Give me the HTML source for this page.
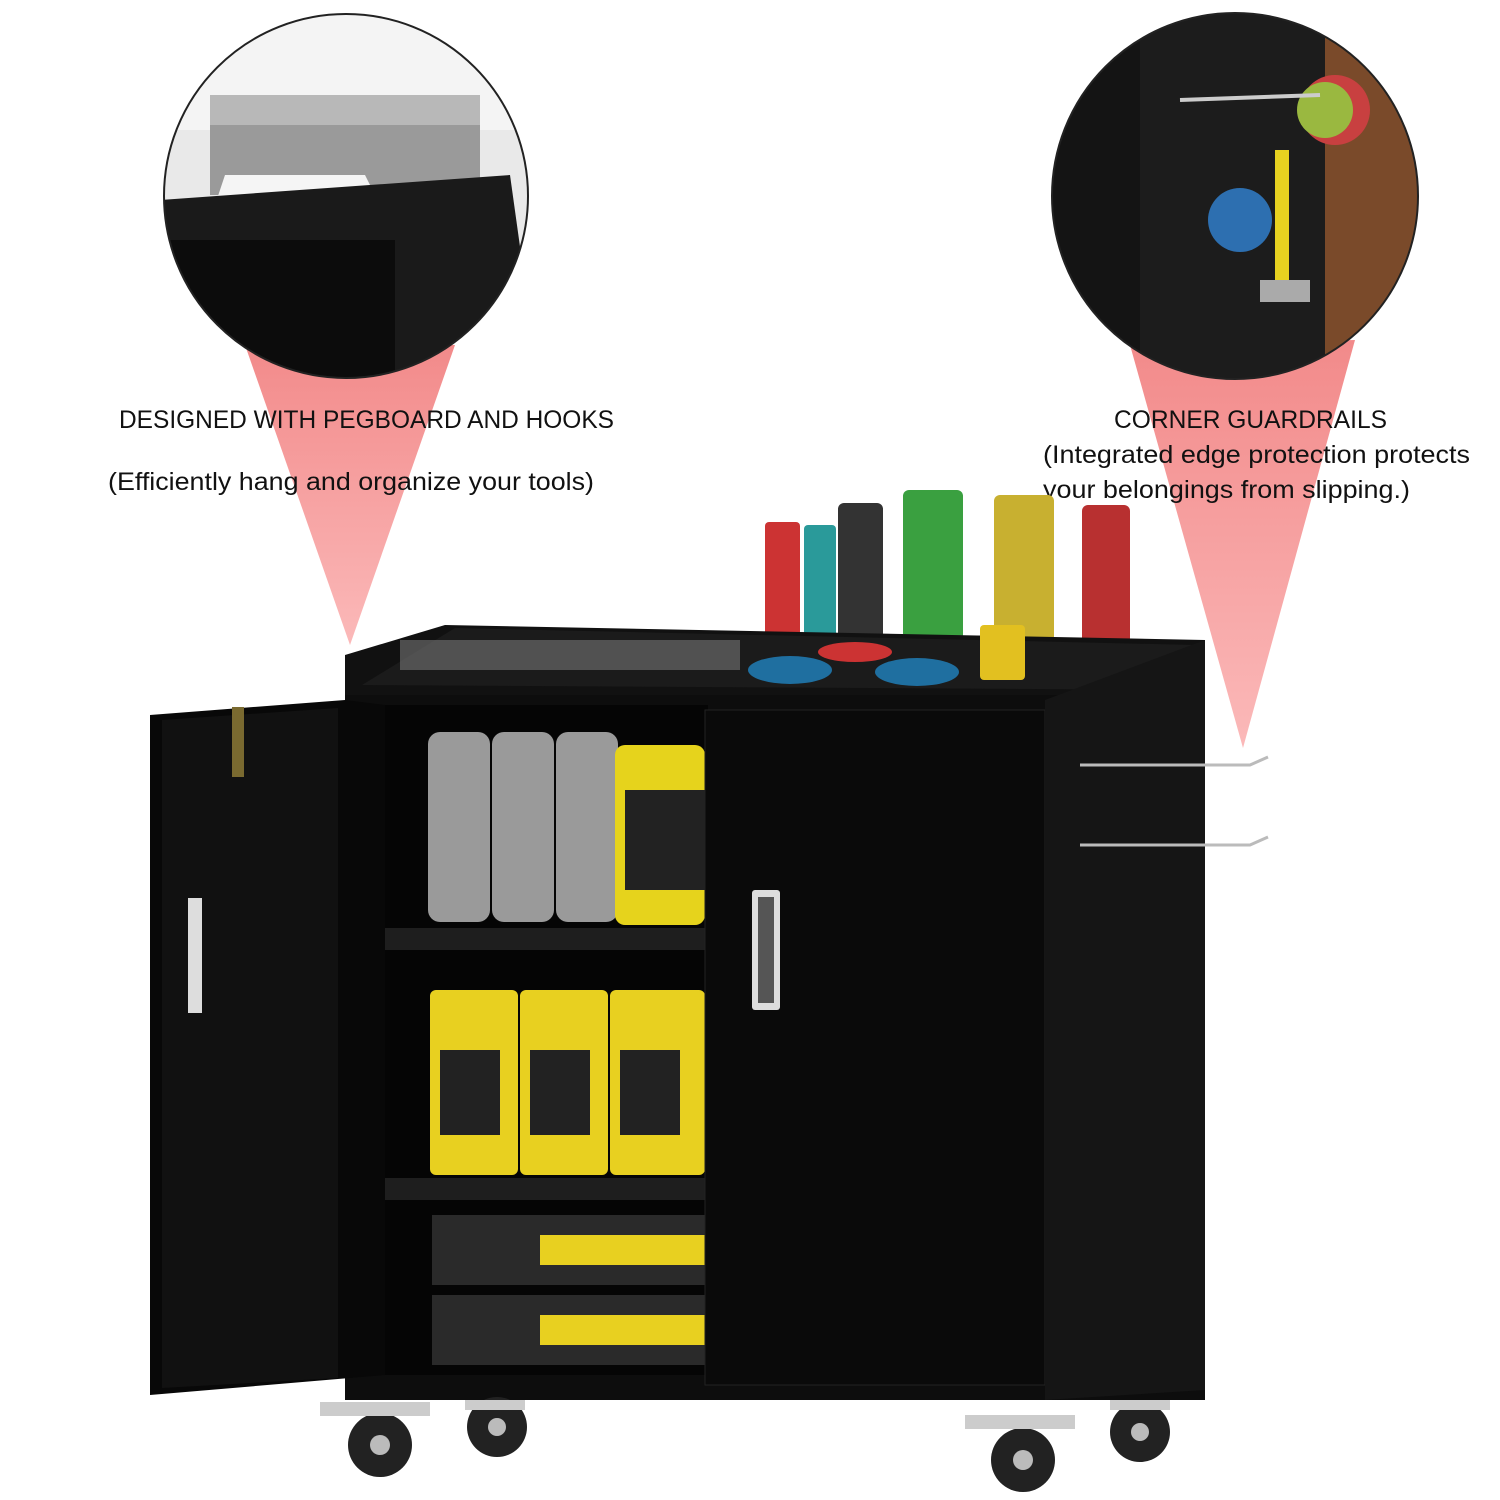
<!DOCTYPE html>
<html><head><meta charset="utf-8"><style>
html,body{margin:0;padding:0;background:#fff;}
svg{display:block}
text{font-family:"Liberation Sans",sans-serif;fill:#111}
</style></head><body>
<svg width="1500" height="1500" viewBox="0 0 1500 1500" xmlns="http://www.w3.org/2000/svg">
<defs>
<linearGradient id="pk" x1="0" y1="0" x2="0" y2="1">
<stop offset="0" stop-color="#f28a8a"/><stop offset="1" stop-color="#fbb9b9"/></linearGradient>
<clipPath id="c1"><circle cx="346" cy="196" r="182"/></clipPath>
<clipPath id="c2"><circle cx="1235" cy="196" r="183"/></clipPath>
</defs>
<polygon points="245,345 455,345 350,645" fill="url(#pk)"/>
<polygon points="1130,345 1355,340 1243,748" fill="url(#pk)"/>
<g clip-path="url(#c1)">
<rect x="160" y="10" width="380" height="380" fill="#e9e9e9"/>
<rect x="160" y="10" width="380" height="120" fill="#f4f4f4"/>
<rect x="210" y="95" width="270" height="100" fill="#9a9a9a"/>
<rect x="210" y="95" width="270" height="30" fill="#b8b8b8"/>
<polygon points="225,175 365,175 380,205 215,205" fill="#f5f5f5"/>
<polygon points="160,200 510,175 540,390 160,390" fill="#1a1a1a"/>
<rect x="165" y="240" width="230" height="150" fill="#0c0c0c"/>
</g>
<circle cx="346" cy="196" r="182" fill="none" stroke="#222" stroke-width="2"/>
<g clip-path="url(#c2)">
<rect x="1050" y="10" width="380" height="380" fill="#1c1c1c"/>
<rect x="1050" y="10" width="90" height="380" fill="#141414"/>
<rect x="1325" y="10" width="100" height="380" fill="#7a4a2a"/>
<circle cx="1335" cy="110" r="35" fill="#c84040"/>
<circle cx="1325" cy="110" r="28" fill="#9ab840"/>
<circle cx="1240" cy="220" r="32" fill="#2d6fb0"/>
<rect x="1275" y="150" width="14" height="150" fill="#e7d220"/>
<rect x="1260" y="280" width="50" height="22" fill="#aaa"/>
<line x1="1180" y1="100" x2="1320" y2="95" stroke="#ccc" stroke-width="4"/>
</g>
<circle cx="1235" cy="196" r="183" fill="none" stroke="#222" stroke-width="2"/>
<text x="119" y="428" font-size="25" textLength="495" lengthAdjust="spacingAndGlyphs">DESIGNED WITH PEGBOARD AND HOOKS</text>
<text x="108" y="490" font-size="25" textLength="486" lengthAdjust="spacingAndGlyphs">(Efficiently hang and organize your tools)</text>
<text x="1114" y="428" font-size="25" textLength="273" lengthAdjust="spacingAndGlyphs">CORNER GUARDRAILS</text>
<text x="1043" y="463" font-size="25" textLength="427" lengthAdjust="spacingAndGlyphs">(Integrated edge protection protects</text>
<text x="1043" y="498" font-size="25" textLength="367" lengthAdjust="spacingAndGlyphs">your belongings from slipping.)</text>
<rect x="765" y="522" width="35" height="133" fill="#c33" rx="4"/>
<rect x="804" y="525" width="32" height="130" fill="#2a9a9a" rx="4"/>
<rect x="838" y="503" width="45" height="142" fill="#333" rx="6"/>
<rect x="903" y="490" width="60" height="175" fill="#3aa040" rx="6"/>
<rect x="994" y="495" width="60" height="165" fill="#c8b030" rx="6"/>
<rect x="1082" y="505" width="48" height="145" fill="#b83030" rx="6"/>
<polygon points="345,655 445,625 1205,640 1205,700 345,700" fill="#111"/>
<polygon points="362,685 455,628 1195,645 1195,690" fill="#1b1b1b"/>
<rect x="400" y="640" width="340" height="30" fill="#777" opacity="0.6"/>
<ellipse cx="790" cy="670" rx="42" ry="14" fill="#1f6fa0"/>
<ellipse cx="917" cy="672" rx="42" ry="14" fill="#1f6fa0"/>
<ellipse cx="855" cy="652" rx="37" ry="10" fill="#c33"/>
<rect x="980" y="625" width="45" height="55" fill="#e2c020" rx="4"/>
<rect x="345" y="695" width="860" height="705" fill="#0d0d0d"/>
<rect x="383" y="705" width="325" height="670" fill="#050505"/>
<rect x="383" y="928" width="325" height="22" fill="#1e1e1e"/>
<rect x="383" y="1178" width="325" height="22" fill="#1e1e1e"/>
<g fill="#9a9a9a"><rect x="428" y="732" width="62" height="190" rx="12"/><rect x="492" y="732" width="62" height="190" rx="12"/><rect x="556" y="732" width="62" height="190" rx="12"/></g>
<rect x="615" y="745" width="90" height="180" fill="#e6d31c" rx="10"/>
<rect x="625" y="790" width="80" height="100" fill="#222"/>
<g fill="#e8d020"><rect x="430" y="990" width="88" height="185" rx="6"/><rect x="520" y="990" width="88" height="185" rx="6"/><rect x="610" y="990" width="95" height="185" rx="6"/></g>
<g fill="#222"><rect x="440" y="1050" width="60" height="85"/><rect x="530" y="1050" width="60" height="85"/><rect x="620" y="1050" width="60" height="85"/></g>
<rect x="432" y="1215" width="273" height="70" fill="#2a2a2a"/>
<rect x="540" y="1235" width="165" height="30" fill="#e8d020"/>
<rect x="432" y="1295" width="273" height="70" fill="#2a2a2a"/>
<rect x="540" y="1315" width="165" height="30" fill="#e8d020"/>
<rect x="705" y="710" width="340" height="675" fill="#0a0a0a" stroke="#222"/>
<rect x="752" y="890" width="28" height="120" fill="#ddd" rx="3"/>
<rect x="758" y="897" width="16" height="106" fill="#555"/>
<polygon points="1045,700 1205,640 1205,1390 1045,1400" fill="#151515"/>
<g stroke="#bbb" stroke-width="3" fill="none"><path d="M1080 765 H1250 L1268 757"/><path d="M1080 845 H1250 L1268 837"/></g>
<polygon points="150,715 345,700 385,705 385,1375 150,1395" fill="#080808"/>
<polygon points="162,720 338,708 338,1378 162,1388" fill="#111"/>
<rect x="188" y="898" width="14" height="115" fill="#ddd"/>
<rect x="232" y="707" width="12" height="70" fill="#7a6a30"/>
<g fill="#222"><circle cx="380" cy="1445" r="32"/><circle cx="497" cy="1427" r="30"/><circle cx="1023" cy="1460" r="32"/><circle cx="1140" cy="1432" r="30"/></g>
<g fill="#bbb"><circle cx="380" cy="1445" r="10"/><circle cx="497" cy="1427" r="9"/><circle cx="1023" cy="1460" r="10"/><circle cx="1140" cy="1432" r="9"/></g>
<g fill="#ccc"><rect x="320" y="1402" width="110" height="14"/><rect x="965" y="1415" width="110" height="14"/><rect x="465" y="1400" width="60" height="10"/><rect x="1110" y="1400" width="60" height="10"/></g>
</svg>
</body></html>
